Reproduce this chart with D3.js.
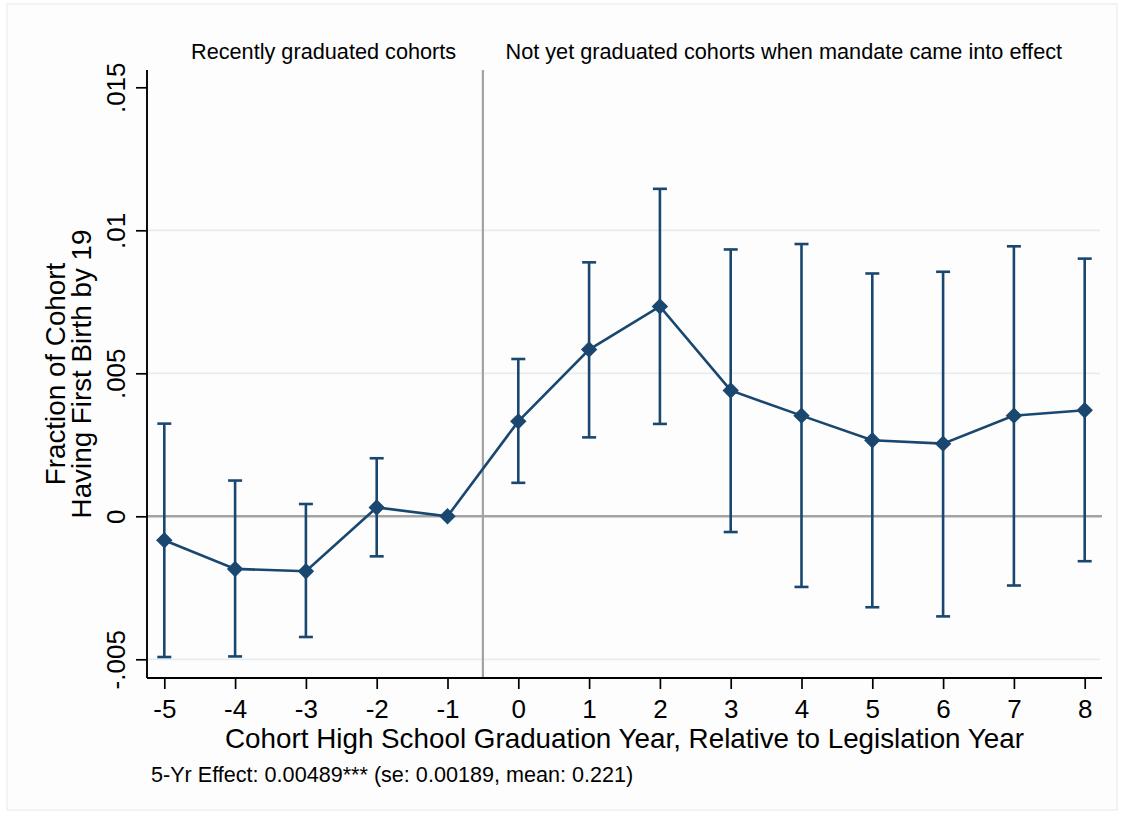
<!DOCTYPE html>
<html>
<head>
<meta charset="utf-8">
<script src="https://cdn.jsdelivr.net/npm/d3@7"></script>
<style>
  html, body { margin: 0; padding: 0; background: #ffffff; }
  svg text { font-family: "Liberation Sans", Arial, Helvetica, sans-serif; fill: #000; }
</style>
</head>
<body>
<svg id="chart" width="1124" height="816"></svg>
<script>
// Event-study estimates: cohort graduation year relative to legislation year
const years = [-5, -4, -3, -2, -1, 0, 1, 2, 3, 4, 5, 6, 7, 8];
const coef  = [-0.00084, -0.00184, -0.00192, 0.00031, 0, 0.00332, 0.00583, 0.00734, 0.0044, 0.00352, 0.00266, 0.00254, 0.00352, 0.00371];
const ciLow = [-0.00492, -0.0049, -0.00422, -0.0014, null, 0.00117, 0.00276, 0.00323, -0.00055, -0.00247, -0.00318, -0.0035, -0.00242, -0.00157];
const ciHigh = [0.00324, 0.00125, 0.00043, 0.00203, null, 0.0055, 0.00888, 0.01145, 0.00933, 0.00952, 0.00849, 0.00855, 0.00944, 0.00901];

const yTicks = [-0.005, 0, 0.005, 0.01, 0.015];
const yTickLabels = ["-.005", "0", ".005", ".01", ".015"];
const yGrid = [-0.005, 0.005, 0.01];
const xTicks = years;
const cutoff = -0.5;

const groupLabels = ["Recently graduated cohorts", "Not yet graduated cohorts when mandate came into effect"];
const groupLabelPos = [-2.75, 3.75];
const yTitle = ["Fraction of Cohort", "Having First Birth by 19"];
const xTitle = "Cohort High School Graduation Year, Relative to Legislation Year";
const note = "5-Yr Effect: 0.00489*** (se: 0.00189, mean: 0.221)";

const navy = "#1a476f";
const svg = d3.select("#chart");

// plot frame
const frame = { left: 147, right: 1102, top: 70, bottom: 678 };

const x = d3.scaleLinear().domain([-5, 8]).range([164.3, 1084.7]);
const y = d3.scaleLinear().domain([-0.005, 0.015]).range([659.3, 87.3]);

// faint outer region outline
svg.append("rect")
  .attr("x", 7).attr("y", 4).attr("width", 1110).attr("height", 806)
  .attr("fill", "#fdfdfd").attr("stroke", "#edf1f3").attr("stroke-width", 1.5);

// gridlines
svg.append("g").selectAll("line").data(yGrid).join("line")
  .attr("x1", frame.left).attr("x2", frame.right - 2)
  .attr("y1", d => y(d)).attr("y2", d => y(d))
  .attr("stroke", "#e6edf2").attr("stroke-width", 1.8);

// reference lines
svg.append("line")
  .attr("x1", frame.left).attr("x2", frame.right)
  .attr("y1", y(0)).attr("y2", y(0))
  .attr("stroke", "#a3a3a3").attr("stroke-width", 2.4);
svg.append("line")
  .attr("x1", x(cutoff)).attr("x2", x(cutoff))
  .attr("y1", frame.top).attr("y2", frame.bottom)
  .attr("stroke", "#a3a3a3").attr("stroke-width", 2.2);

// y axis
const yAxis = d3.axisLeft(y).tickValues(yTicks).tickSize(11).tickFormat((d, i) => yTickLabels[i]);
const gy = svg.append("g").attr("transform", `translate(${frame.left},0)`).call(yAxis);
gy.select(".domain").remove();
gy.selectAll(".tick line").attr("stroke", "#000").attr("stroke-width", 1.7);
gy.selectAll(".tick text")
  .attr("font-size", 26)
  .attr("x", null).attr("dy", null)
  .attr("text-anchor", "middle")
  .attr("transform", "translate(-22,0) rotate(-90)");
svg.append("line").attr("x1", frame.left).attr("x2", frame.left).attr("y1", frame.top).attr("y2", frame.bottom)
  .attr("stroke", "#000").attr("stroke-width", 1.9);

// x axis
const xAxis = d3.axisBottom(x).tickValues(xTicks).tickSize(11).tickFormat(d3.format("d"));
const gx = svg.append("g").attr("transform", `translate(0,${frame.bottom})`).call(xAxis);
gx.select(".domain").remove();
gx.selectAll(".tick line").attr("stroke", "#000").attr("stroke-width", 1.7);
gx.selectAll(".tick text").attr("font-size", 26).attr("y", 40).attr("dy", null)
  .text(d => d < 0 ? "-" + Math.abs(d) : d);
svg.append("line").attr("x1", frame.left).attr("x2", frame.right).attr("y1", frame.bottom).attr("y2", frame.bottom)
  .attr("stroke", "#000").attr("stroke-width", 1.9);

// confidence intervals
const rows = years.map((yr, i) => ({ yr, c: coef[i], lo: ciLow[i], hi: ciHigh[i] }));
const ci = rows.filter(d => d.lo !== null);
const capHalf = 7;
const gci = svg.append("g").attr("stroke", navy).attr("stroke-width", 2.6);
gci.selectAll("line.bar").data(ci).join("line").attr("class", "bar")
  .attr("x1", d => x(d.yr)).attr("x2", d => x(d.yr))
  .attr("y1", d => y(d.lo)).attr("y2", d => y(d.hi));
gci.selectAll("line.capHi").data(ci).join("line").attr("class", "capHi")
  .attr("x1", d => x(d.yr) - capHalf).attr("x2", d => x(d.yr) + capHalf)
  .attr("y1", d => y(d.hi)).attr("y2", d => y(d.hi));
gci.selectAll("line.capLo").data(ci).join("line").attr("class", "capLo")
  .attr("x1", d => x(d.yr) - capHalf).attr("x2", d => x(d.yr) + capHalf)
  .attr("y1", d => y(d.lo)).attr("y2", d => y(d.lo));

// connecting line
svg.append("path").datum(rows)
  .attr("fill", "none").attr("stroke", navy).attr("stroke-width", 2.6)
  .attr("d", d3.line().x(d => x(d.yr)).y(d => y(d.c)));

// diamond markers
const diamond = d3.symbol().type(d3.symbolSquare).size(135);
svg.append("g").selectAll("path").data(rows).join("path")
  .attr("d", diamond)
  .attr("fill", navy)
  .attr("transform", d => `translate(${x(d.yr)},${y(d.c)}) rotate(45)`);

// group annotations
svg.append("g").selectAll("text").data(groupLabels).join("text")
  .attr("x", (d, i) => x(groupLabelPos[i])).attr("y", 59)
  .attr("text-anchor", "middle").attr("font-size", 21.7)
  .text(d => d);

// axis titles
svg.append("g").selectAll("text").data(yTitle).join("text")
  .attr("text-anchor", "middle").attr("font-size", 27.8)
  .attr("transform", (d, i) => `translate(${i === 0 ? 65 : 91},${(frame.top + frame.bottom) / 2}) rotate(-90)`)
  .text(d => d);
svg.append("text")
  .attr("x", (frame.left + frame.right) / 2).attr("y", 748)
  .attr("text-anchor", "middle").attr("font-size", 27.8)
  .text(xTitle);

// footnote
svg.append("text")
  .attr("x", 151).attr("y", 782)
  .attr("font-size", 21.6)
  .text(note);
</script>
</body>
</html>
